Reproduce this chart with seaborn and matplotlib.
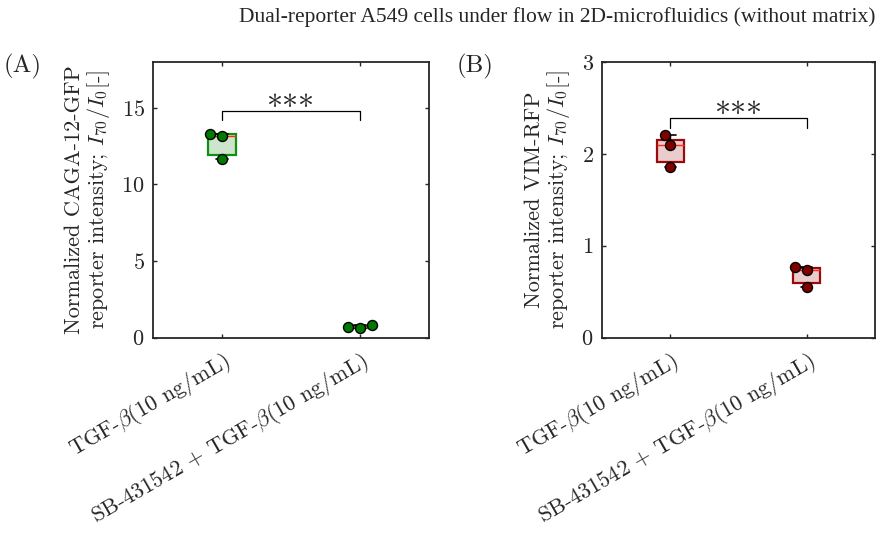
import numpy as np
import pandas as pd
import matplotlib
matplotlib.use("Agg")
import matplotlib.pyplot as plt
import seaborn as sns

# Conditions on the x axis
conditions = [r"TGF-$\beta$(10 ng/mL)", r"SB-431542 + TGF-$\beta$(10 ng/mL)"]

# Normalized CAGA-12-GFP reporter intensity (three replicates per condition)
gfp_tgf = [13.32, 13.19, 11.66]
gfp_sb = [0.70, 0.64, 0.80]
# Box quartiles for the GFP panel (lower, upper)
gfp_q1 = [11.95, 0.63]
gfp_q3 = [13.32, 0.72]

# Normalized VIM-RFP reporter intensity (three replicates per condition)
rfp_tgf = [2.204, 2.095, 1.858]
rfp_sb = [0.765, 0.732, 0.546]
# Box quartiles for the RFP panel (lower, upper)
rfp_q1 = [1.916, 0.593]
rfp_q3 = [2.153, 0.757]

sns.set_style("ticks")
plt.rcParams.update({
    "font.family": ["cmr10", "DejaVu Serif"],
    "mathtext.fontset": "cm",
    "axes.unicode_minus": False,
    "axes.formatter.use_mathtext": True,
    "xtick.direction": "in",
    "ytick.direction": "in",
    "axes.edgecolor": "#262626",
    "axes.linewidth": 1.3,
})

FS = 16.0

fig = plt.figure(figsize=(8.77, 5.33), dpi=100)
axA = fig.add_axes([153 / 877, 1 - 337.5 / 533, 276 / 877, 275.5 / 533])
axB = fig.add_axes([602 / 877, 1 - 337.5 / 533, 273 / 877, 275.5 / 533])


def panel(ax, groups, q1, q3, edge, fill, dot, ylim, yticks, ylabel,
          br_y, br_drop, star_y):
    stats = []
    for vals, lo, hi in zip(groups, q1, q3):
        stats.append(dict(med=float(np.median(vals)), q1=lo, q3=hi,
                          whislo=min(vals), whishi=max(vals), fliers=[]))
    ax.bxp(stats, positions=[0, 1], widths=0.2, patch_artist=True,
           showfliers=False, capwidths=0.08,
           boxprops=dict(facecolor=fill, edgecolor=edge, linewidth=1.6),
           medianprops=dict(color="#ff2a1a", linewidth=1.0),
           whiskerprops=dict(color="black", linewidth=1.0),
           capprops=dict(color="black", linewidth=1.2),
           zorder=2)
    df = pd.DataFrame({
        "cond": [conditions[0]] * len(groups[0]) + [conditions[1]] * len(groups[1]),
        "value": list(groups[0]) + list(groups[1]),
    })
    sns.swarmplot(data=df, x="cond", y="value", order=conditions, ax=ax,
                  color=dot, edgecolor="black", linewidth=1.0, size=7.2,
                  zorder=3)
    ax.set_xlim(-0.5, 1.5)
    ax.set_ylim(*ylim)
    ax.set_yticks(yticks)
    ax.set_xticks([0, 1])
    ax.set_xticklabels(conditions, rotation=30, ha="right",
                       rotation_mode="anchor", fontsize=FS)
    ax.tick_params(axis="both", which="both", top=True, right=True,
                   length=3, width=1.0, labelsize=FS)
    ax.tick_params(axis="x", pad=8)
    ax.tick_params(axis="y", pad=6)
    ax.set_xlabel("")
    ax.set_ylabel(ylabel, fontsize=FS, linespacing=1.05, labelpad=7)
    # significance bracket
    ax.plot([0, 0, 1, 1], [br_y - br_drop, br_y, br_y, br_y - br_drop],
            color="black", linewidth=0.9, zorder=4)
    ax.text(0.5, star_y, "***", ha="center", va="center", fontsize=23)


panel(axA, [gfp_tgf, gfp_sb], gfp_q1, gfp_q3,
      edge="#109010", fill=(0.0, 0.5, 0.0, 0.2), dot="#007a00",
      ylim=(0, 18), yticks=[0, 5, 10, 15],
      ylabel="Normalized CAGA-12-GFP\nreporter intensity; $I_{70}/I_0$[-]",
      br_y=14.8, br_drop=0.6, star_y=14.9)
panel(axB, [rfp_tgf, rfp_sb], rfp_q1, rfp_q3,
      edge="#9a0a0a", fill=(0.6, 0.0, 0.0, 0.2), dot="#800000",
      ylim=(0, 3), yticks=[0, 1, 2, 3],
      ylabel="Normalized VIM-RFP\nreporter intensity; $I_{70}/I_0$[-]",
      br_y=2.39, br_drop=0.11, star_y=2.41)

fig.text(4 / 877, 1 - 66 / 533, "(A)", fontsize=18, va="center", ha="left")
fig.text(457 / 877, 1 - 66 / 533, "(B)", fontsize=18, va="center", ha="left")
fig.text(557 / 877, 1 - 17 / 533,
         "Dual-reporter A549 cells under flow in 2D-microfluidics (without matrix)",
         family="Liberation Serif", fontsize=15.5, ha="center", va="center")

fig.savefig("out.png", dpi=100, facecolor="white")
